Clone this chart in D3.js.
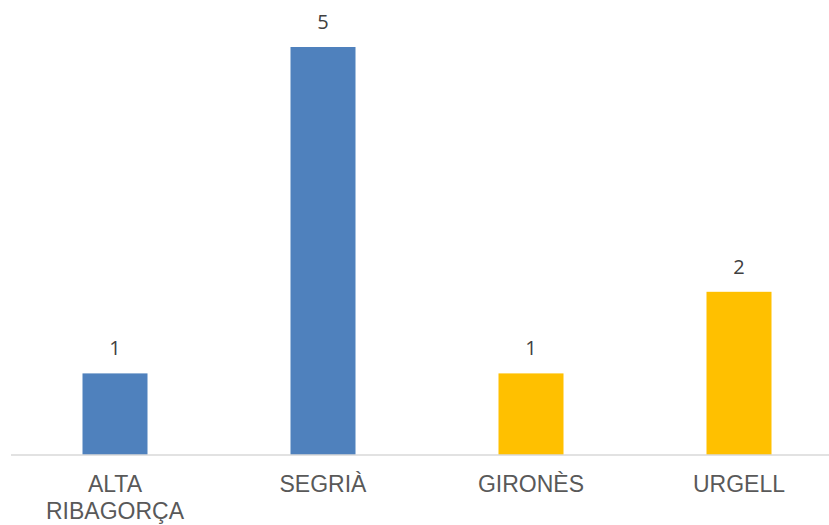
<!DOCTYPE html>
<html>
<head>
<meta charset="utf-8">
<script src="https://cdn.jsdelivr.net/npm/d3@7"></script>
<style>
  body { margin: 0; background: #fff; }
  .chart text { font-family: "Liberation Sans", Arial, sans-serif; }
  .chart text.val { font-family: "Open Sans", sans-serif; }
</style>
</head>
<body>
<div class="chart"></div>
<script>
const categories = [['ALTA', 'RIBAGORÇA'], ['SEGRIÀ'], ['GIRONÈS'], ['URGELL']];
const values = [1, 5, 1, 2];
const barColors = ['#4F81BD', '#4F81BD', '#FFC000', '#FFC000'];

function displayChart() {
  const w = 829;
  const h = 525;
  const base = 455;

  const data = values.map((v, i) => ({ key: i, label: categories[i], value: v, color: barColors[i] }));

  const xScale = d3.scaleBand()
    .domain(data.map((d) => d.key))
    .range([11, 843])
    .paddingInner(0.6875)
    .paddingOuter(0.34375);
  const yScale = d3.scaleLinear()
    .domain([0, 5])
    .range([base, 47]);

  const svg = d3.select('.chart')
    .append('svg')
    .attr('width', w)
    .attr('height', h);

  svg.selectAll('rect')
    .data(data)
    .enter()
    .append('rect')
    .attr('x', (d) => xScale(d.key))
    .attr('y', (d) => yScale(d.value))
    .attr('width', xScale.bandwidth())
    .attr('height', (d) => base - yScale(d.value))
    .attr('fill', (d) => d.color);

  // axis line
  svg.append('line')
    .attr('x1', 11)
    .attr('x2', w)
    .attr('y1', base)
    .attr('y2', base)
    .attr('stroke', '#D9D9D9')
    .attr('stroke-width', 1.5);

  // value labels
  svg.selectAll('.val')
    .data(data)
    .enter()
    .append('text')
    .attr('class', 'val')
    .attr('x', (d) => xScale(d.key) + xScale.bandwidth() / 2)
    .attr('y', (d) => yScale(d.value) - 18)
    .attr('text-anchor', 'middle')
    .attr('font-size', 20)
    .attr('fill', '#404040')
    .text((d) => d.value);

  // category labels
  const cat = svg.selectAll('.cat')
    .data(data)
    .enter()
    .append('text')
    .attr('class', 'cat')
    .attr('x', (d) => xScale(d.key) + xScale.bandwidth() / 2)
    .attr('y', 492)
    .attr('text-anchor', 'middle')
    .attr('font-size', 23)
    .attr('fill', '#595959');

  cat.selectAll('tspan')
    .data((d) => d.label.map((t) => ({ t, x: xScale(d.key) + xScale.bandwidth() / 2 })))
    .enter()
    .append('tspan')
    .attr('x', (d) => d.x)
    .attr('dy', (d, i) => (i === 0 ? 0 : 27))
    .text((d) => d.t);
}

displayChart();
</script>
</body>
</html>
